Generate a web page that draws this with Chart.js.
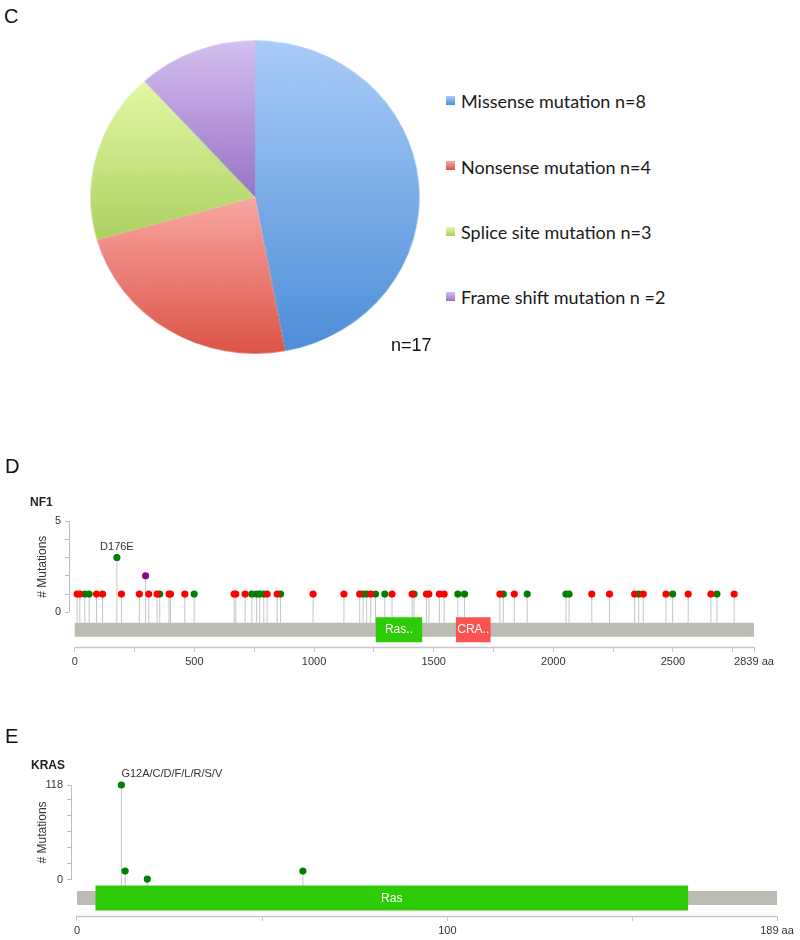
<!DOCTYPE html>
<html>
<head>
<meta charset="utf-8">
<script src="https://cdn.jsdelivr.net/npm/chart.js@4.4.1/dist/chart.umd.min.js"></script>
<style>
	body { margin: 0; background: #fff; width: 800px; height: 940px; position: relative; overflow: hidden; font-family: "Liberation Sans", Arial, sans-serif; }
	.abs { position: absolute; }
	.panel { font-size: 20px; line-height: 20px; color: #111; }
	.gene { font-size: 12px; line-height: 12px; font-weight: bold; color: #222; z-index: 2; }
	.leg-box { position: absolute; left: 446px; width: 9px; height: 9px; }
	.leg-text { position: absolute; left: 461px; font-family: Lato, "Open Sans", sans-serif; font-size: 18px; line-height: 18px; color: #1a1a1a; white-space: nowrap; }
</style>
</head>
<body>
<div class="abs panel" style="left:4px;top:6px">C</div>
<div class="abs" style="left:95px;top:37px;width:320px;height:320px;transform:scale(1.028,0.979)">
	<canvas id="pie" width="320" height="320"></canvas>
</div>
<div id="legend"></div>
<div class="abs" id="total" style="left:391px;top:336px;font-size:18px;line-height:18px;color:#111"></div>

<div class="abs panel" style="left:5px;top:456px">D</div>
<canvas id="nf1" class="abs" style="left:0;top:490px" width="800" height="190"></canvas>
<div class="abs gene" style="left:30px;top:496px">NF1</div>

<div class="abs panel" style="left:5px;top:726px">E</div>
<canvas id="kras" class="abs" style="left:0;top:740px" width="800" height="200"></canvas>
<div class="abs gene" style="left:31px;top:759px">KRAS</div>

<script>
// panel C
var pieLabels = ['Missense mutation n=8', 'Nonsense mutation n=4', 'Splice site mutation n=3', 'Frame shift mutation n =2'];
var pieCounts = [8, 4, 3, 2];
var pieTotal = 'n=17';

// panel D, NF1
var nf1Length = 2839;
var nf1MissensePos = [42, 60, 176, 355, 499, 740, 760, 773, 790, 860, 1205, 1220, 1257, 1296, 1418, 1601, 1629, 1791, 1891, 2053, 2066, 2357, 2499, 2684];
var nf1MissenseCount = [1, 1, 3, 1, 1, 1, 1, 1, 1, 1, 1, 1, 1, 1, 1, 1, 1, 1, 1, 1, 1, 1, 1, 1];
var nf1TruncPos = [10, 21, 91, 116, 195, 270, 309, 344, 394, 400, 460, 666, 673, 712, 804, 846, 996, 1125, 1191, 1237, 1326, 1410, 1470, 1480, 1524, 1544, 1777, 1837, 2161, 2235, 2340, 2376, 2471, 2564, 2659, 2756];
var nf1TruncCount = [1, 1, 1, 1, 1, 1, 1, 1, 1, 1, 1, 1, 1, 1, 1, 1, 1, 1, 1, 1, 1, 1, 1, 1, 1, 1, 1, 1, 1, 1, 1, 1, 1, 1, 1, 1];
var nf1OtherPos = [296];
var nf1OtherCount = [2];
var nf1DomainName = ['Ras..', 'CRA..'];
var nf1DomainStart = [1258, 1593];
var nf1DomainEnd = [1452, 1738];
var nf1LabelPos = [176];
var nf1LabelText = ['D176E'];
var nf1YTicks = [0, 1, 2, 3, 4, 5];
var nf1XTicks = [0, 250, 500, 750, 1000, 1250, 1500, 1750, 2000, 2250, 2500, 2750, 2839];

// panel E, KRAS
var krasLength = 189;
var krasMissensePos = [12, 13, 19, 61];
var krasMissenseCount = [118, 11, 1, 11];
var krasDomainName = ['Ras'];
var krasDomainStart = [5];
var krasDomainEnd = [165];
var krasLabelPos = [12];
var krasLabelText = ['G12A/C/D/F/L/R/S/V'];
var krasYTicks = [0, 20, 40, 60, 80, 100, 118];
var krasXTicks = [0, 50, 100, 150, 189];

var FONT = "'Liberation Sans', Arial, sans-serif";
Chart.defaults.font.family = FONT;

// top / bottom colour of each slice
var sliceTop = ['#a9ccf8', '#f9a7a2', '#e4f8a4', '#d5bff0'];
var sliceBottom = ['#4e8ed8', '#dc5447', '#abd162', '#9873c6'];

function sliceFill(ctx) {
	var chart = ctx.chart;
	var area = chart.chartArea;
	var i = ctx.dataIndex;
	if (!area) return sliceBottom[i];
	var cx = (area.left + area.right) / 2;
	var cy = (area.top + area.bottom) / 2;
	var r = Math.min(area.right - area.left, area.bottom - area.top) / 2;
	var sum = 0, before = 0;
	for (var k = 0; k < pieCounts.length; k++) {
		sum += pieCounts[k];
		if (k < i) before += pieCounts[k];
	}
	var a0 = before / sum * 2 * Math.PI;
	var a1 = (before + pieCounts[i]) / sum * 2 * Math.PI;
	var ys = [cy, cy - r * Math.cos(a0), cy - r * Math.cos(a1)];
	if (a0 <= 0) ys.push(cy - r);
	if (a0 <= Math.PI && a1 >= Math.PI) ys.push(cy + r);
	var y0 = Math.min.apply(null, ys), y1 = Math.max.apply(null, ys);
	var g = chart.ctx.createLinearGradient(0, y0, 0, y1);
	g.addColorStop(0, sliceTop[i]);
	g.addColorStop(1, sliceBottom[i]);
	return g;
}

new Chart(document.getElementById('pie'), {
	type: 'pie',
	data: {
		labels: pieLabels,
		datasets: [{ data: pieCounts, backgroundColor: sliceFill, borderWidth: 0 }]
	},
	options: {
		responsive: false,
		animation: false,
		layout: { padding: 0 },
		plugins: { legend: { display: false }, tooltip: { enabled: false } }
	}
});

// legend as page text
var legend = document.getElementById('legend');
pieLabels.forEach(function(label, i) {
	var box = document.createElement('div');
	box.className = 'leg-box';
	box.style.top = (96 + 65.3 * i) + 'px';
	box.style.background = 'linear-gradient(' + sliceTop[i] + ',' + sliceBottom[i] + ')';
	legend.appendChild(box);
	var t = document.createElement('div');
	t.className = 'leg-text';
	t.style.top = (92.3 + 65.3 * i) + 'px';
	t.textContent = label;
	legend.appendChild(t);
});
document.getElementById('total').textContent = pieTotal;

function points(pos, count) {
	return pos.map(function(p, i) { return { x: p, y: count[i] }; });
}

function lollipopChart(id, o) {
	var max = o.yTicks[o.yTicks.length - 1];
	var barY = -0.19 * max;
	var stemY = -0.115 * max;
	var datasets = [];

	o.series.forEach(function(s) {
		datasets.push({
			type: 'scatter', data: points(s.pos, s.count), order: s.order,
			backgroundColor: s.color, borderWidth: 0, pointRadius: 3.6, pointHoverRadius: 3.6, clip: false
		});
	});
	o.domainName.forEach(function(n, i) {
		datasets.push({
			type: 'line', data: [{ x: o.domainStart[i], y: barY }, { x: o.domainEnd[i], y: barY }], order: 4,
			borderColor: o.domainColor[i], borderWidth: 25, borderCapStyle: 'butt', pointRadius: 0
		});
	});
	datasets.push({
		type: 'line', data: [{ x: 0, y: barY }, { x: o.length, y: barY }], order: 5,
		borderColor: '#bcbcb5', borderWidth: 14, borderCapStyle: 'butt', pointRadius: 0
	});
	var stems = [];
	o.series.forEach(function(s) {
		s.pos.forEach(function(p, i) {
			stems.push({ x: p, y: stemY }, { x: p, y: s.count[i] }, { x: p, y: null });
		});
	});
	datasets.push({
		type: 'line', data: stems, order: 6, spanGaps: false,
		borderColor: '#c6c6c6', borderWidth: 1, pointRadius: 0
	});

	var extras = {
		id: 'extras',
		afterDraw: function(chart) {
			var c = chart.ctx, a = chart.chartArea;
			var xs = chart.scales.x, ys = chart.scales.y;
			c.save();
			c.strokeStyle = '#bdbdbd';
			c.lineWidth = 1;
			c.beginPath();
			c.moveTo(a.left + 0.5, ys.getPixelForValue(0));
			c.lineTo(a.left + 0.5, ys.getPixelForValue(max));
			c.stroke();
			c.strokeStyle = '#c8c8c8';
			c.lineWidth = 1.5;
			c.beginPath();
			c.moveTo(xs.getPixelForValue(0), a.bottom + 0.5);
			c.lineTo(xs.getPixelForValue(o.length), a.bottom + 0.5);
			c.stroke();

			c.fillStyle = '#333';
			c.font = '12px ' + FONT;
			c.textAlign = 'center';
			c.textBaseline = 'middle';
			c.translate(43, (ys.getPixelForValue(0) + ys.getPixelForValue(max)) / 2);
			c.rotate(-Math.PI / 2);
			c.fillText('# Mutations', 0, 0);
			c.restore();

			c.save();
			c.font = '12px ' + FONT;
			c.fillStyle = '#fff';
			c.textAlign = 'center';
			c.textBaseline = 'middle';
			o.domainName.forEach(function(n, i) {
				c.fillText(n, xs.getPixelForValue((o.domainStart[i] + o.domainEnd[i]) / 2), ys.getPixelForValue(barY) + 0.5);
			});
			c.font = '11px ' + FONT;
			c.fillStyle = '#333';
			c.textAlign = o.labelAlign;
			c.textBaseline = 'alphabetic';
			o.labelPos.forEach(function(p, i) {
				var v = 0;
				o.series.forEach(function(s) {
					var k = s.pos.indexOf(p);
					if (k >= 0) v = Math.max(v, s.count[k]);
				});
				c.fillText(o.labelText[i], xs.getPixelForValue(p), ys.getPixelForValue(v) - 8);
			});
			c.restore();
		}
	};

	return new Chart(document.getElementById(id), {
		data: { datasets: datasets },
		plugins: [extras],
		options: {
			responsive: false,
			animation: false,
			layout: { padding: { top: o.padTop, right: o.padRight, left: 0, bottom: 0 } },
			plugins: { legend: { display: false }, tooltip: { enabled: false } },
			scales: {
				x: {
					type: 'linear', min: -0.0085 * o.length, max: o.length,
					afterBuildTicks: function(s) { s.ticks = o.xTicks.map(function(v) { return { value: v }; }); },
					afterFit: function(s) { s.height = o.xAxisHeight; },
					border: { display: false },
					grid: { drawOnChartArea: false, tickLength: 5, color: '#c8c8c8', lineWidth: 1 },
					ticks: {
						autoSkip: false, maxRotation: 0, padding: 3, color: '#333', font: { size: 11 },
						callback: function(v) {
							if (v === o.length) return v + ' aa';
							return v % o.xLabelStep === 0 ? v : '';
						}
					}
				},
				y: {
					type: 'linear', min: -0.38 * max, max: max,
					afterBuildTicks: function(s) { s.ticks = o.yTicks.map(function(v) { return { value: v }; }); },
					afterFit: function(s) { s.width = o.yAxisWidth; },
					border: { display: false },
					grid: { drawOnChartArea: false, tickLength: 4, color: '#bdbdbd', lineWidth: 1 },
					ticks: {
						padding: 4, color: '#333', font: { size: 11 },
						callback: function(v) { return (v === 0 || v === max) ? v : ''; }
					}
				}
			}
		}
	});
}

lollipopChart('nf1', {
	length: nf1Length,
	series: [
		{ pos: nf1TruncPos, count: nf1TruncCount, color: '#ff0000', order: 1 },
		{ pos: nf1MissensePos, count: nf1MissenseCount, color: '#008000', order: 2 },
		{ pos: nf1OtherPos, count: nf1OtherCount, color: '#8b0a8b', order: 3 }
	],
	domainName: nf1DomainName, domainStart: nf1DomainStart, domainEnd: nf1DomainEnd,
	domainColor: ['#2ecc06', '#fb5352'],
	labelPos: nf1LabelPos, labelText: nf1LabelText, labelAlign: 'center',
	yTicks: nf1YTicks, xTicks: nf1XTicks, xLabelStep: 500,
	padTop: 31, padRight: 46, xAxisHeight: 33, yAxisWidth: 69
});

lollipopChart('kras', {
	length: krasLength,
	series: [
		{ pos: krasMissensePos, count: krasMissenseCount, color: '#008000', order: 2 }
	],
	domainName: krasDomainName, domainStart: krasDomainStart, domainEnd: krasDomainEnd,
	domainColor: ['#2ecc06'],
	labelPos: krasLabelPos, labelText: krasLabelText, labelAlign: 'left',
	yTicks: krasYTicks, xTicks: krasXTicks, xLabelStep: 100,
	padTop: 45, padRight: 23, xAxisHeight: 24, yAxisWidth: 71
});
</script>
</body>
</html>
